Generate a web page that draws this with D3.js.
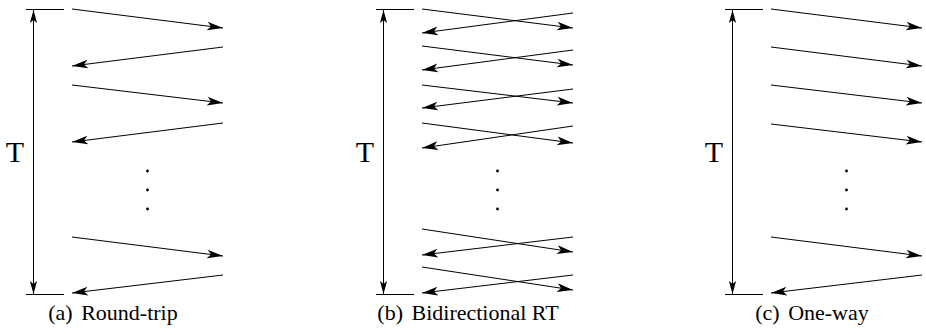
<!DOCTYPE html>
<html>
<head>
<meta charset="utf-8">
<script src="https://cdn.jsdelivr.net/npm/d3@7"></script>
</head>
<body style="margin:0;background:#fff">
<svg id="chart" width="926" height="335" style="display:block"></svg>
<script>
// ---- data (time in units, 0 = start of interval T, 285 = end) ----
const panels = ["(a) Round-trip", "(b) Bidirectional RT", "(c) One-way"];
const captionCenters = [113, 118, 113];
const intervalT = [0, 285];
const dotTimes = [162, 181, 200];

// each message: [direction, sendTime, receiveTime]
const roundTripMsgs = [
  ["r", 0, 19], ["l", 38, 57], ["r", 76, 94], ["l", 114, 133],
  ["r", 228, 247], ["l", 266, 284]
];
const bidirectionalMsgs = [
  ["r", 0, 19], ["l", 4, 24],
  ["r", 37, 56], ["l", 41, 61],
  ["r", 76, 94], ["l", 80, 99],
  ["r", 114, 134], ["l", 117, 139],
  ["r", 220, 243], ["l", 228, 246],
  ["r", 258, 281], ["l", 266, 284]
];
const oneWayMsgs = [
  ["r", 0, 19], ["r", 38, 57], ["r", 76, 94], ["r", 115, 133],
  ["r", 228, 247], ["l", 266, 284]
];
const panelMsgs = [roundTripMsgs, bidirectionalMsgs, oneWayMsgs];

// ---- layout ----
const FONT = "'Liberation Serif', monospace";
const svg = d3.select("#chart");
const panelOffsets = [0, 350, 699];
const y = d3.scaleLinear().domain(intervalT).range([9, 294]);
const x = d3.scaleLinear().domain([0, 1]).range([72, 223]); // sender -> receiver

const defs = svg.append("defs");
defs.append("marker")
  .attr("id", "headH")
  .attr("viewBox", "-17 -6 18 12")
  .attr("markerWidth", 18).attr("markerHeight", 12)
  .attr("refX", 0).attr("refY", 0)
  .attr("markerUnits", "userSpaceOnUse")
  .attr("orient", "auto")
  .append("path")
  .attr("d", "M0,0 L-16,-4.4 L-12,0 L-16,4.4 Z")
  .attr("fill", "#000");
defs.append("marker")
  .attr("id", "headV")
  .attr("viewBox", "-14 -5 15 10")
  .attr("markerWidth", 15).attr("markerHeight", 10)
  .attr("refX", 0).attr("refY", 0)
  .attr("markerUnits", "userSpaceOnUse")
  .attr("orient", "auto-start-reverse")
  .append("path")
  .attr("d", "M0,0 L-13,-3.6 L-10,0 L-13,3.6 Z")
  .attr("fill", "#000");

panels.forEach((caption, i) => {
  const g = svg.append("g").attr("transform", `translate(${panelOffsets[i]},0)`);

  // interval ticks
  g.selectAll("line.tick").data(intervalT).join("line")
    .attr("class", "tick")
    .attr("x1", 26).attr("x2", 64)
    .attr("y1", d => y(d) + 0.5).attr("y2", d => y(d) + 0.5)
    .attr("stroke", "#000").attr("stroke-width", 1);

  // T double arrow
  g.append("line")
    .attr("x1", 33.5).attr("x2", 33.5)
    .attr("y1", y(intervalT[0]) + 1).attr("y2", y(intervalT[1]))
    .attr("stroke", "#000").attr("stroke-width", 1)
    .attr("marker-start", "url(#headV)")
    .attr("marker-end", "url(#headV)");

  g.append("text")
    .attr("x", 15).attr("y", 162)
    .attr("text-anchor", "middle")
    .attr("font-size", 30)
    .style("font-family", FONT)
    .text("T");

  // messages
  g.selectAll("line.msg").data(panelMsgs[i]).join("line")
    .attr("class", "msg")
    .attr("x1", d => d[0] === "r" ? x(0) : x(1))
    .attr("x2", d => d[0] === "r" ? x(1) : x(0))
    .attr("y1", d => y(d[1]))
    .attr("y2", d => y(d[2]))
    .attr("stroke", "#000").attr("stroke-width", 1)
    .attr("marker-end", "url(#headH)");

  // ellipsis dots
  g.selectAll("circle.dot").data(dotTimes).join("circle")
    .attr("class", "dot")
    .attr("cx", 147.5).attr("cy", d => y(d))
    .attr("r", 1.4).attr("fill", "#000");

  // caption
  const parts = caption.split(" ");
  const t = g.append("text")
    .attr("x", captionCenters[i]).attr("y", 320)
    .attr("text-anchor", "middle")
    .attr("font-size", 22)
    .style("font-family", FONT)
    .attr("fill", "#000");
  t.append("tspan").text(parts[0]);
  t.append("tspan").attr("dx", 3).text(" " + parts.slice(1).join(" "));
});
</script>
</body>
</html>
